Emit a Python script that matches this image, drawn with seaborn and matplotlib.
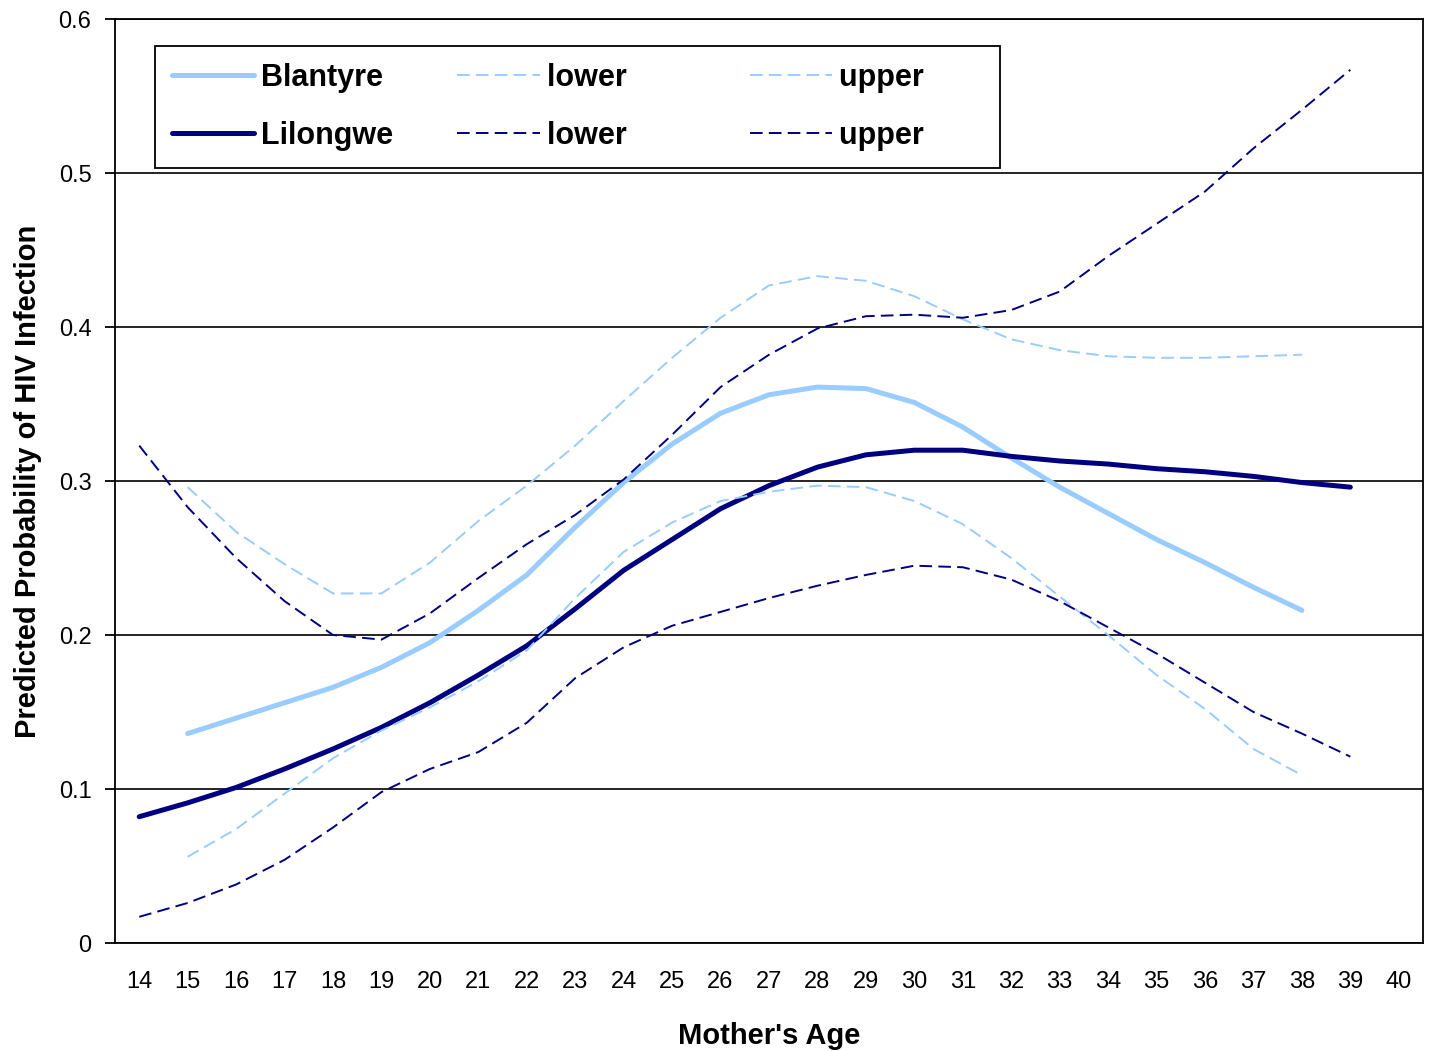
import matplotlib
matplotlib.use("Agg")
import matplotlib.pyplot as plt
from matplotlib.ticker import FixedLocator, FuncFormatter
import seaborn as sns
import pandas as pd

ages_b = list(range(15, 39))
ages_l = list(range(14, 40))
age_ticks = list(range(14, 41))

blantyre = [0.136, 0.146, 0.156, 0.166, 0.179, 0.195, 0.216, 0.239, 0.270, 0.299,
            0.324, 0.344, 0.356, 0.361, 0.360, 0.351, 0.335, 0.315, 0.296, 0.279,
            0.262, 0.247, 0.231, 0.216]
blantyre_lower = [0.056, 0.074, 0.097, 0.120, 0.138, 0.153, 0.170, 0.190, 0.224, 0.254,
                  0.273, 0.287, 0.293, 0.297, 0.296, 0.287, 0.272, 0.250, 0.225, 0.200,
                  0.174, 0.152, 0.126, 0.109]
blantyre_upper = [0.296, 0.267, 0.246, 0.227, 0.227, 0.247, 0.274, 0.297, 0.323, 0.352,
                  0.380, 0.406, 0.427, 0.433, 0.430, 0.420, 0.405, 0.392, 0.385, 0.381,
                  0.380, 0.380, 0.381, 0.382]

lilongwe = [0.082, 0.091, 0.101, 0.113, 0.126, 0.140, 0.156, 0.174, 0.193, 0.217,
            0.242, 0.262, 0.282, 0.297, 0.309, 0.317, 0.320, 0.320, 0.316, 0.313,
            0.311, 0.308, 0.306, 0.303, 0.299, 0.296]
lilongwe_lower = [0.017, 0.026, 0.038, 0.054, 0.075, 0.098, 0.113, 0.124, 0.143, 0.172,
                  0.192, 0.206, 0.215, 0.224, 0.232, 0.239, 0.245, 0.244, 0.236, 0.222,
                  0.205, 0.188, 0.169, 0.150, 0.136, 0.121]
lilongwe_upper = [0.323, 0.283, 0.250, 0.222, 0.200, 0.197, 0.214, 0.237, 0.259, 0.278,
                  0.301, 0.330, 0.361, 0.382, 0.399, 0.407, 0.408, 0.406, 0.411, 0.423,
                  0.446, 0.467, 0.488, 0.516, 0.541, 0.567]

LIGHT = "#99CCFF"
DARK = "#000080"

sns.set_style("white")
plt.rcParams["font.family"] = ["Liberation Sans", "DejaVu Sans"]
for k in ["text.color", "axes.labelcolor", "xtick.color", "ytick.color"]:
    plt.rcParams[k] = "black"

fig = plt.figure(figsize=(14.34, 10.51), dpi=100)
ax = fig.add_axes([115/1434, 1 - 943/1051, (1423-115)/1434, (943-19)/1051])

dash = (6.5, 3.2)
series = [
    ("Blantyre", ages_b, blantyre, LIGHT, 3.6, None),
    ("Lilongwe", ages_l, lilongwe, DARK, 3.6, None),
    ("lower", ages_b, blantyre_lower, LIGHT, 1.4, dash),
    ("lower", ages_l, lilongwe_lower, DARK, 1.4, dash),
    ("upper", ages_b, blantyre_upper, LIGHT, 1.4, dash),
    ("upper", ages_l, lilongwe_upper, DARK, 1.4, dash),
]
handles = []
for name, xs, ys, col, lw, ds in series:
    df = pd.DataFrame({"age": xs, "p": ys})
    sns.lineplot(data=df, x="age", y="p", ax=ax, color=col, linewidth=lw,
                 legend=False)
    ln = ax.get_lines()[-1]
    ln.set_solid_capstyle("round")
    if ds is not None:
        ln.set_dashes(ds)
    handles.append(ln)

ax.set_xlim(13.5, 40.5)
ax.set_ylim(0, 0.6)
ax.set_yticks([0, 0.1, 0.2, 0.3, 0.4, 0.5, 0.6])
ax.yaxis.set_major_formatter(FuncFormatter(lambda v, p: "0" if v == 0 else f"{v:.1f}"))
ax.xaxis.set_major_locator(FixedLocator(age_ticks))
ax.set_xticklabels([str(a) for a in age_ticks])
ax.xaxis.set_minor_locator(FixedLocator([a - 0.5 for a in age_ticks] + [40.5]))
ax.tick_params(axis="x", which="major", length=0, labelsize=17, pad=20, colors="black")
ax.tick_params(axis="x", which="minor", length=7, width=1.3, direction="out", color="black")
ax.tick_params(axis="y", which="major", length=7, width=1.3, direction="out", labelsize=17,
               pad=10, colors="black", left=True)
ax.grid(axis="y", color="black", linewidth=1.2)
ax.set_axisbelow(True)
for s in ax.spines.values():
    s.set_color("black")
    s.set_linewidth(1.3)

ax.set_xlabel("Mother's Age", fontsize=21, fontweight="bold", labelpad=21)
ax.set_ylabel("Predicted Probability of HIV Infection", fontsize=21, fontweight="bold", labelpad=12)

leg = ax.legend(handles=handles,
                labels=["Blantyre", "Lilongwe", "lower" + " " * 7, "lower" + " " * 7,
                        "upper" + " " * 7, "upper" + " " * 7],
                ncol=3, loc="upper left", bbox_to_anchor=((155-115)/1308, (943-46)/924),
                frameon=True, fancybox=False, edgecolor="black", framealpha=1,
                prop={"weight": "bold", "size": 22}, handlelength=2.7, handletextpad=0.22,
                columnspacing=2.1, labelspacing=0.92, borderpad=0.55, borderaxespad=0)
leg.get_frame().set_linewidth(1.3)

fig.savefig("out.png", dpi=100)
